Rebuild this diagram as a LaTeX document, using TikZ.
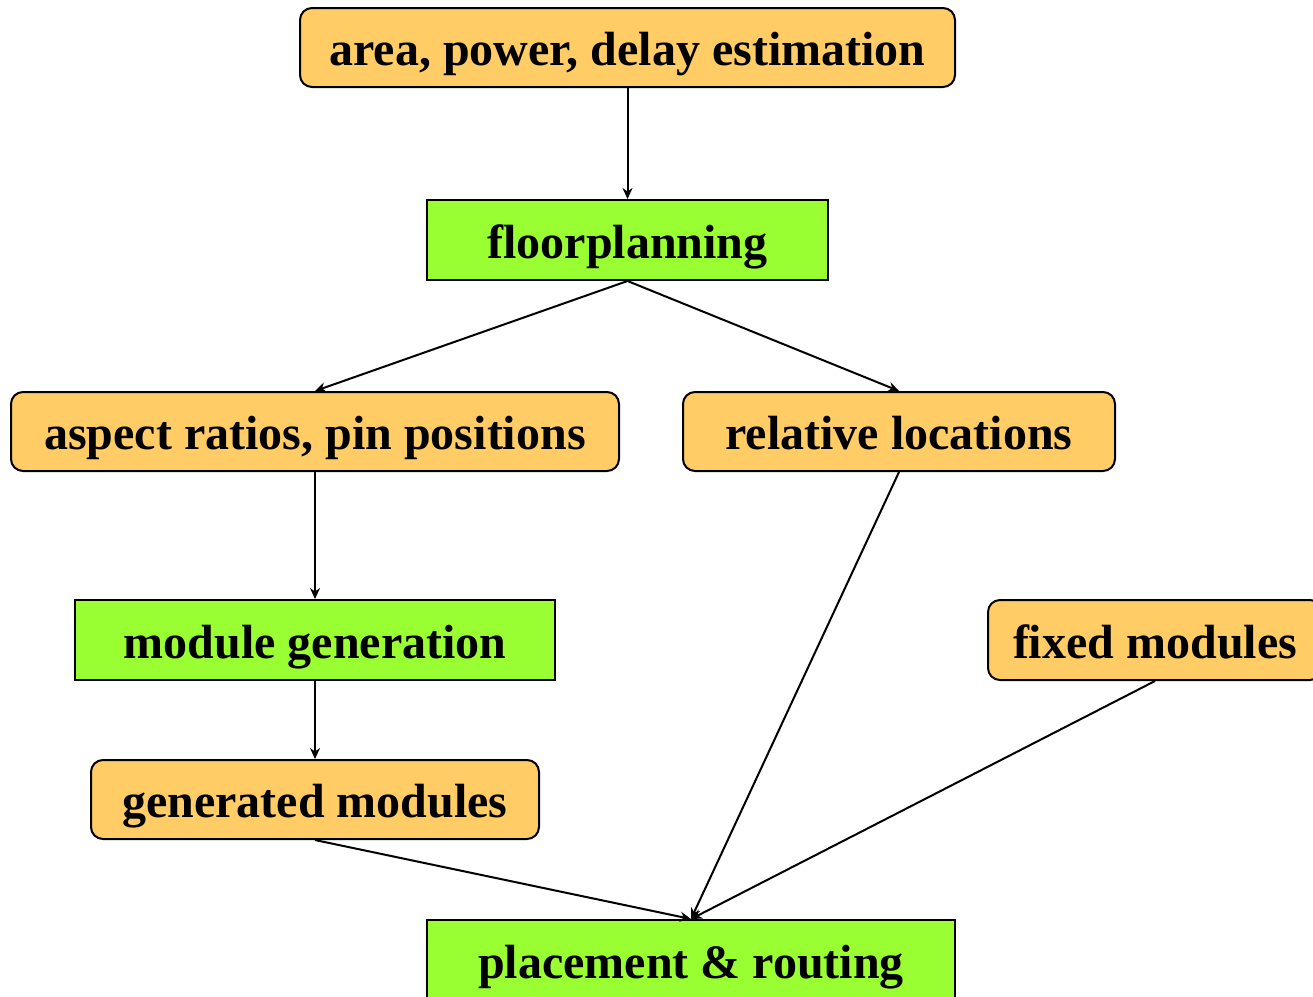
\documentclass[tikz,border=0pt]{standalone}
\usepackage{fontspec}
\setmainfont{Liberation Serif}
\usetikzlibrary{arrows.meta}
\definecolor{boxorange}{HTML}{FFCC66}
\definecolor{boxgreen}{HTML}{99FF33}
\tikzset{
  boxtext/.style={inner sep=0pt, text height=40pt, text depth=4pt,
    font=\fontsize{48}{56}\selectfont\bfseries},
  databox/.style={boxtext, draw=black, line width=2pt, fill=boxorange, rounded corners=12pt},
  taskbox/.style={boxtext, draw=black, line width=2pt, fill=boxgreen},
  flow/.style={line width=2pt, -{Stealth[length=11pt,width=10pt]}}
}
\begin{document}
\begin{tikzpicture}[x=1pt,y=-1pt]
  \useasboundingbox (0,0) rectangle (1313,996);
  \clip (0,0) rectangle (1313,996);
  % data and task boxes
  \node[databox, minimum width=655pt, minimum height=79pt] (est) at (627.5,47.5) {area, power, delay estimation};
  \node[taskbox, minimum width=401pt, minimum height=80pt] (fp) at (627.5,240) {floorplanning};
  \node[databox, minimum width=608pt, minimum height=79pt] (asp) at (315,431.5) {aspect ratios, pin positions};
  \node[databox, minimum width=432pt, minimum height=79pt] (rel) at (899,431.5) {relative locations};
  \node[taskbox, minimum width=480pt, minimum height=80pt] (mg) at (315,640) {module generation};
  \node[databox, minimum width=334pt, minimum height=80pt] (fix) at (1155,640) {fixed modules};
  \node[databox, minimum width=448pt, minimum height=79pt] (gen) at (315,799.5) {generated modules};
  \node[taskbox, minimum width=528pt, minimum height=80pt] (pr) at (691,960) {placement \& routing};
  % connectors
  \draw[flow] (est.south) -- (fp.north);
  \draw[flow] (fp.south) -- (asp.north);
  \draw[flow] (fp.south) -- (rel.north);
  \draw[flow] (asp.south) -- (mg.north);
  \draw[flow] (mg.south) -- (gen.north);
  \draw[flow] (gen.south) -- (pr.north);
  \draw[flow] (rel.south) -- (pr.north);
  \draw[flow] (fix.south) -- (pr.north);
\end{tikzpicture}
\end{document}
